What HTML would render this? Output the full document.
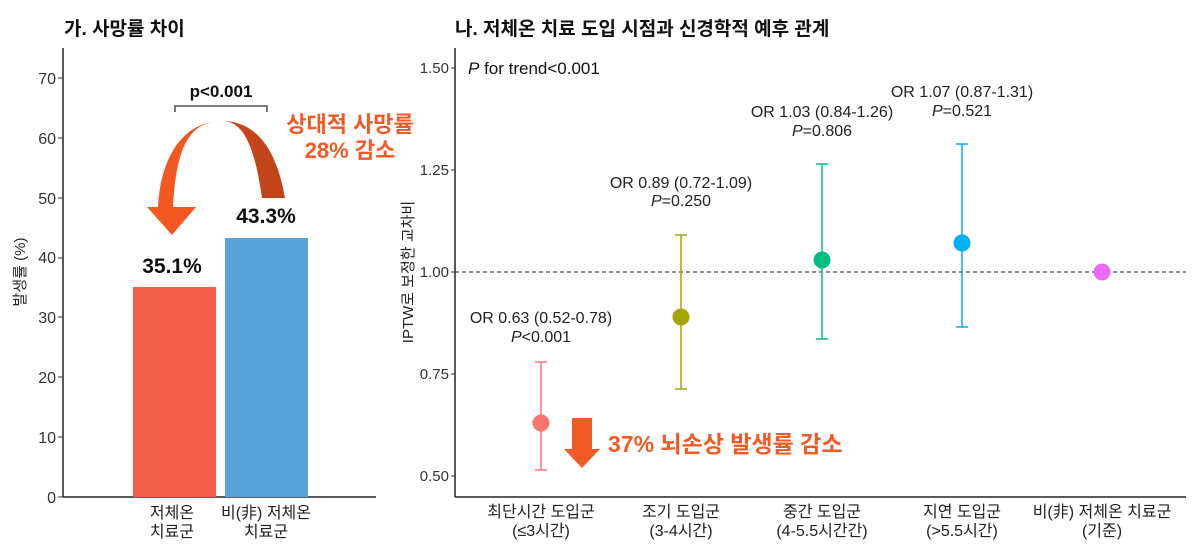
<!DOCTYPE html>
<html><head><meta charset="utf-8"><style>
body{margin:0;background:#fff;}
svg{display:block;font-family:"Liberation Sans","Noto Sans CJK KR",sans-serif;}
</style></head><body>
<svg width="1200" height="559" viewBox="0 0 1200 559">
<defs><linearGradient id="g" x1="0" x2="1"><stop offset="0" stop-color="#f55a23"/><stop offset="0.5" stop-color="#f25520"/><stop offset="0.6" stop-color="#c9461c"/><stop offset="1" stop-color="#c0431b"/></linearGradient></defs>
<text x="64" y="35" font-size="19" font-weight="bold" fill="#111">가. 사망률 차이</text>
<text x="455" y="35" font-size="19" font-weight="bold" fill="#111">나. 저체온 치료 도입 시점과 신경학적 예후 관계</text>
<!-- left -->
<g stroke="#222" stroke-width="1.5"><line x1="63" y1="48" x2="63" y2="497"/><line x1="63" y1="497" x2="376" y2="497"/></g>
<g font-size="16" fill="#333" text-anchor="end">
<text x="56" y="503">0</text><text x="56" y="443">10</text><text x="56" y="383">20</text><text x="56" y="323">30</text><text x="56" y="263">40</text><text x="56" y="204">50</text><text x="56" y="144">60</text><text x="56" y="84">70</text></g>
<g stroke="#333"><line x1="58" y1="497" x2="63" y2="497"/><line x1="58" y1="437" x2="63" y2="437"/><line x1="58" y1="377" x2="63" y2="377"/><line x1="58" y1="317" x2="63" y2="317"/><line x1="58" y1="258" x2="63" y2="258"/><line x1="58" y1="198" x2="63" y2="198"/><line x1="58" y1="138" x2="63" y2="138"/><line x1="58" y1="78" x2="63" y2="78"/></g>
<text transform="translate(25,272) rotate(-90)" font-size="15" fill="#222" text-anchor="middle">발생률 (%)</text>
<rect x="133" y="287" width="83" height="210" fill="#f15f4a"/>
<rect x="225" y="238" width="83" height="259" fill="#5aa3d9"/>
<text x="172" y="273" font-size="21" font-weight="bold" text-anchor="middle" fill="#111">35.1%</text>
<text x="266" y="223" font-size="21" font-weight="bold" text-anchor="middle" fill="#111">43.3%</text>
<text x="221" y="97" font-size="17" font-weight="bold" text-anchor="middle" fill="#111">p&lt;0.001</text>
<path d="M175 112 V106 H267 V112" fill="none" stroke="#333" stroke-width="1.3"/>
<path d="M285 198 C275 140 250 121 222 121 C188 121 176 150 173 207 L196 207 L172 235 L147 207 L158 207 C161 150 188 121 222 121 C245 121 255 150 262 198 Z" fill="url(#g)"/>
<text x="350" y="132" font-size="22" font-weight="bold" text-anchor="middle" fill="#f05a24">상대적 사망률</text>
<text x="350" y="158" font-size="22" font-weight="bold" text-anchor="middle" fill="#f05a24">28% 감소</text>
<g font-size="16" fill="#222" text-anchor="middle"><text x="172" y="518">저체온</text><text x="172" y="537">치료군</text><text x="266" y="518">비(非) 저체온</text><text x="266" y="537">치료군</text></g>
<!-- right -->
<g stroke="#222" stroke-width="1.5"><line x1="455" y1="48" x2="455" y2="497"/><line x1="455" y1="497" x2="1186" y2="497"/></g>
<g font-size="15" fill="#333" text-anchor="end"><text x="449" y="73">1.50</text><text x="449" y="175">1.25</text><text x="449" y="277">1.00</text><text x="449" y="379">0.75</text><text x="449" y="481">0.50</text></g>
<g stroke="#333"><line x1="451" y1="68" x2="455" y2="68"/><line x1="451" y1="170" x2="455" y2="170"/><line x1="451" y1="272" x2="455" y2="272"/><line x1="451" y1="374" x2="455" y2="374"/><line x1="451" y1="476" x2="455" y2="476"/></g>
<text transform="translate(413,272) rotate(-90)" font-size="15" fill="#222" text-anchor="middle">IPTW로 보정한 교차비</text>
<line x1="455" y1="272" x2="1186" y2="272" stroke="#222" stroke-dasharray="4,3"/>
<text x="468" y="74" font-size="17" fill="#111"><tspan font-style="italic">P</tspan> for trend&lt;0.001</text>
<g stroke-width="1.5" fill="none">
<path d="M535 362H547M541 362V470M535 470H547" stroke="#f8766d"/>
<path d="M675 235H687M681 235V389M675 389H687" stroke="#a3a500"/>
<path d="M816 164H828M822 164V339M816 339H828" stroke="#00bf7d"/>
<path d="M956 144H968M962 144V327M956 327H968" stroke="#00b0f6"/>
</g>
<circle cx="541" cy="423" r="8.5" fill="#f8766d"/>
<circle cx="681" cy="317" r="8.5" fill="#a3a500"/>
<circle cx="822" cy="260" r="8.5" fill="#00bf7d"/>
<circle cx="962" cy="243" r="8.5" fill="#00b0f6"/>
<circle cx="1102" cy="272" r="8.5" fill="#e76bf3"/>
<g font-size="16" fill="#222" text-anchor="middle">
<text x="541" y="323">OR 0.63 (0.52-0.78)</text><text x="541" y="342"><tspan font-style="italic">P</tspan>&lt;0.001</text>
<text x="681" y="188">OR 0.89 (0.72-1.09)</text><text x="681" y="206"><tspan font-style="italic">P</tspan>=0.250</text>
<text x="822" y="117">OR 1.03 (0.84-1.26)</text><text x="822" y="136"><tspan font-style="italic">P</tspan>=0.806</text>
<text x="962" y="97">OR 1.07 (0.87-1.31)</text><text x="962" y="116"><tspan font-style="italic">P</tspan>=0.521</text>
</g>
<path d="M572 418H592V449H600L582 468L564 449H572Z" fill="#f05a24"/>
<text x="608" y="452" font-size="23" font-weight="bold" fill="#f05a24">37% 뇌손상 발생률 감소</text>
<g font-size="16" fill="#222" text-anchor="middle">
<text x="541" y="517">최단시간 도입군</text><text x="541" y="536">(≤3시간)</text>
<text x="681" y="517">조기 도입군</text><text x="681" y="536">(3-4시간)</text>
<text x="822" y="517">중간 도입군</text><text x="822" y="536">(4-5.5시간간)</text>
<text x="962" y="517">지연 도입군</text><text x="962" y="536">(&gt;5.5시간)</text>
<text x="1102" y="517">비(非) 저체온 치료군</text><text x="1102" y="536">(기준)</text>
</g>
</svg>
</body></html>
